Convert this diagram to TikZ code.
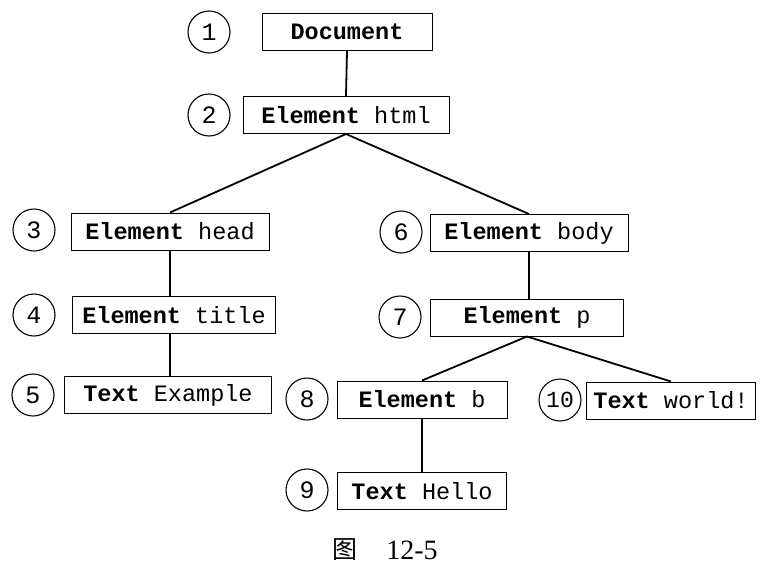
\documentclass[tikz,border=0pt]{standalone}
\usepackage{fontspec}
\setmonofont{Liberation Mono}
\setmainfont{Liberation Serif}
\newfontfamily\cjk{Noto Sans CJK SC}
\usetikzlibrary{calc}

\begin{document}
\begin{tikzpicture}[x=1pt, y=-1pt,
  box/.style={draw, line width=1pt, minimum height=37pt, inner sep=0pt, font=\fontsize{23.5}{26}\selectfont\ttfamily},
  num/.style={draw, circle, line width=1.1pt, minimum size=42pt, inner sep=0pt, font=\fontsize{25}{28}\selectfont\ttfamily},
  edge/.style={line width=1.8pt}]
\useasboundingbox (0, 0) rectangle (768, 573);

\node [num] (n1) at (209, 32) {1};
\node [num] (n2) at (209, 115) {2};
\node [num] (n3) at (34, 230) {3};
\node [num] (n4) at (34, 315) {4};
\node [num] (n5) at (33, 395) {5};
\node [num] (n6) at (401, 232) {6};
\node [num] (n7) at (400, 317) {7};
\node [num] (n8) at (307, 399) {8};
\node [num] (n9) at (307, 490) {9};
\node [num, font=\fontsize{23}{26}\selectfont\ttfamily] (n10) at (560, 400) {10};

\node [box, minimum width=170pt] (doc) at (347, 31.5) {\textbf{Document}};
\node [box, minimum width=206pt] (html) at (346, 115) {\textbf{Element} html};
\node [box, minimum width=198pt] (head) at (170, 231.5) {\textbf{Element} head};
\node [box, minimum width=203pt] (title) at (174, 315) {\textbf{Element} title};
\node [box, minimum width=207pt] (example) at (168, 395) {\textbf{Text} Example};
\node [box, minimum width=198pt] (body) at (529, 233) {\textbf{Element} body};
\node [box, minimum width=193pt] (p) at (527, 317.5) {\textbf{Element} p};
\node [box, minimum width=170pt] (b) at (422, 399.5) {\textbf{Element} b};
\node [box, minimum width=169pt] (world) at (671, 400.5) {\textbf{Text} world!};
\node [box, minimum width=169pt] (hello) at (422, 491) {\textbf{Text} Hello};

\draw [edge] (doc.south) -- (html.north);
\draw [edge] (html.south) -- (head.north);
\draw [edge] (html.south) -- (body.north);
\draw [edge] (head.south) -- (head.south |- title.north);
\draw [edge] (head.south |- title.south) -- (head.south |- example.north);
\draw [edge] (body.south) -- (body.south |- p.north);
\draw [edge] (p.south) -- (b.north);
\draw [edge] (p.south) -- (world.north);
\draw [edge] (b.south) -- (hello.north);

\node [font=\fontsize{25}{28}\selectfont\cjk] (figchar) at (345, 550) {图};
\node [font=\fontsize{28}{30}\selectfont] (fignum) at (412, 550) {12-5};
\end{tikzpicture}
\end{document}
